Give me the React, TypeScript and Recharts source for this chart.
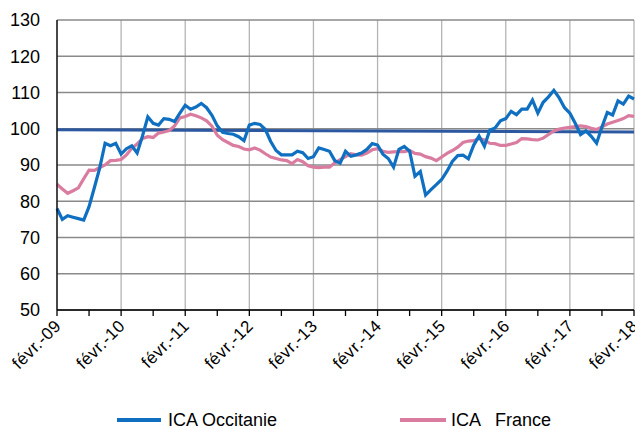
import { CartesianGrid, Line, LineChart, ReferenceLine, XAxis, YAxis } from 'recharts';

// ICA Occitanie vs ICA France, monthly from févr.-09 to févr.-18.

const monthNames = ['févr.', 'mars', 'avr.', 'mai', 'juin', 'juil.', 'août', 'sept.', 'oct.', 'nov.', 'déc.', 'janv.'];
const monthCount = 109;

const categories: string[] = Array.from({ length: monthCount }, (_, i) => {
  const year = 9 + Math.floor((i + 1) / 12);
  return `${monthNames[i % 12]}-${String(year).padStart(2, '0')}`;
});

const occitanie = [
  78, 75, 76, 75.6, 75.2, 74.8, 78.5, 83.8, 89.2, 96, 95.3, 96,
  93, 94.5, 95.3, 93.3, 98, 103.3, 101.5, 101, 102.8, 102.6, 102, 104.3,
  106.5, 105.4, 106, 107, 105.8, 103.7, 100.8, 99, 98.7, 98.5, 97.8, 96.7,
  101, 101.5, 101.2, 99.8, 96.5, 94, 92.8, 92.8, 92.8, 93.8, 93.4, 91.8,
  92.3, 94.7, 94.3, 93.8, 91.2, 90.5, 93.8, 92.4, 92.8, 93.3, 94.3, 95.9,
  95.5, 93, 91.8, 89.4, 94.3, 95.1, 93.8, 86.9, 88.2, 81.7, 83.2, 84.6,
  86, 88.3, 91, 92.6, 92.7, 91.7, 95.5, 98, 95.2, 99.6, 100.2, 102.2,
  102.8, 104.8, 103.9, 105.4, 105.4, 107.9, 104.3, 107.3, 108.8, 110.6, 108.5, 105.8,
  104.3, 101.5, 98.4, 99.4, 97.9, 96, 100.5, 104.5, 103.8, 107.7, 106.8, 109,
  108.2,
];

const france = [
  84.7, 83.4, 82.2, 82.9, 83.7, 86.2, 88.6, 88.5, 89.3, 90, 91.2, 91.3,
  91.5, 92.8, 94.6, 95.8, 97.3, 97.8, 97.6, 98.8, 99.1, 99.5, 100.8, 103,
  103.4, 104, 103.6, 103, 102.2, 100.7, 98.2, 97, 96.2, 95.4, 95.1, 94.4,
  94.2, 94.7, 94.1, 93.1, 92.2, 91.8, 91.4, 91.2, 90.4, 91.5, 90.9, 89.8,
  89.4, 89.3, 89.4, 89.4, 90.6, 91.5, 92.3, 93.1, 92.8, 92.7, 93.3, 94.2,
  94.5, 93.8, 93.5, 93.6, 93.7, 93.7, 94, 93.2, 93, 92.3, 91.9, 91.2,
  92.2, 93.2, 94, 94.9, 96.2, 96.6, 96.7, 97.3, 96.9, 96, 95.9, 95.4,
  95.4, 95.8, 96.2, 97.3, 97.2, 97, 96.9, 97.4, 98.4, 99.4, 99.9, 100.2,
  100.4, 100.6, 100.8, 100.6, 100.1, 99.8, 100.5, 101.3, 101.8, 102.3, 102.8, 103.6,
  103.4,
];

// the dark "100" line drifts slightly down from left to right
const baseLineEnds = [99.7, 99.1];

const yTicks = [50, 60, 70, 80, 90, 100, 110, 120, 130];

const data = categories.map((label, i) => ({
  label,
  occitanie: occitanie[i],
  france: france[i],
}));

const halfYearTicks = categories.filter((_, i) => i % 6 === 0);
const yearTicks = categories.filter((_, i) => i % 12 === 0);

const FONT = '"Liberation Sans", Arial, sans-serif';
const BLUE = '#0f6fc0';
const PINK = '#d97c9f';
const DARK_BLUE = '#2b58a0';

// only the february ticks carry a label, the mid-year ticks are bare marks
function XTick(props: any) {
  const { x, y, payload } = props;
  const value = payload.value as string;
  if (!value.startsWith('févr.')) return <g />;
  const ax = x + 5;
  const ay = y + 9;
  return (
    <text
      x={ax}
      y={ay}
      transform={`rotate(-45, ${ax}, ${ay})`}
      textAnchor='end'
      fontSize={17}
      letterSpacing={0.5}
      fontFamily={FONT}
      fill='#000'
    >
      {value}
    </text>
  );
}

function scaleOf(axis: any, v: string): number | undefined {
  const s = axis?.scale;
  if (!s) return undefined;
  if (typeof s === 'function') return s(v);
  if (typeof s.map === 'function') return s.map(v);
  return undefined;
}

// vertical grid only once a year
function yearGrid({ xAxis, offset }: any) {
  return yearTicks.map((t) => {
    const px = scaleOf(xAxis, t);
    if (px !== undefined && !Number.isNaN(px)) return px;
    const i = categories.indexOf(t);
    return offset.left + (i / (monthCount - 1)) * offset.width;
  });
}

export default function App() {
  return (
    <div style={{ position: 'absolute', left: 0, top: 0, width: 635, height: 429, background: '#fff', fontFamily: FONT, overflow: 'hidden' }}>
      <LineChart
        width={635}
        height={429}
        data={data}
        margin={{ top: 20, right: 1, bottom: 0, left: 0 }}
      >
        <CartesianGrid horizontal={false} stroke='#b4b4b4' strokeWidth={1.3} verticalCoordinatesGenerator={yearGrid} />
        <CartesianGrid vertical={false} stroke='#8a8a8a' strokeWidth={1.3} />
        <XAxis
          dataKey='label'
          ticks={halfYearTicks}
          interval={0}
          height={119}
          tick={(p: any) => <XTick {...p} />}
          tickSize={6}
          axisLine={{ stroke: '#000', strokeWidth: 1.3 }}
          tickLine={{ stroke: '#000', strokeWidth: 1.3 }}
        />
        <YAxis
          domain={[50, 130]}
          ticks={yTicks}
          width={57}
          tickLine={false}
          tickMargin={11}
          axisLine={{ stroke: '#000', strokeWidth: 1.3 }}
          tick={{ fontSize: 18, fill: '#000', fontFamily: FONT }}
        />
        <ReferenceLine
          segment={[
            { x: categories[0], y: baseLineEnds[0] },
            { x: categories[monthCount - 1], y: baseLineEnds[1] },
          ]}
          stroke={DARK_BLUE}
          strokeWidth={3}
        />
        <Line
          dataKey='france'
          stroke={PINK}
          strokeWidth={3.2}
          dot={false}
          isAnimationActive={false}
        />
        <Line
          dataKey='occitanie'
          stroke={BLUE}
          strokeWidth={3.2}
          dot={false}
          isAnimationActive={false}
        />
      </LineChart>
      <div
        style={{
          position: 'absolute',
          top: 411,
          left: 117,
          display: 'flex',
          alignItems: 'center',
          fontSize: 18,
          lineHeight: '18px',
          color: '#000',
          whiteSpace: 'pre',
        }}
      >
        <span style={{ display: 'inline-block', width: 44, height: 4, background: BLUE, marginRight: 7 }} />
        <span>ICA Occitanie</span>
        <span style={{ display: 'inline-block', width: 46, height: 4, background: PINK, marginLeft: 123, marginRight: 5 }} />
        <span>ICA   France</span>
      </div>
    </div>
  );
}
